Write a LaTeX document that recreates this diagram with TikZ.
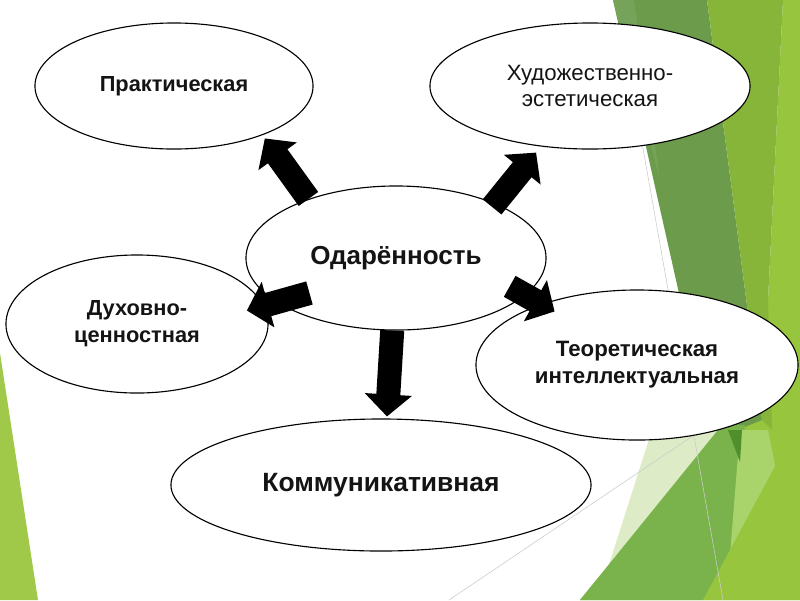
\documentclass[tikz,border=0pt]{standalone}
\usepackage{fontspec}
\setmainfont{Liberation Sans}
\usepackage{tikz}
\usetikzlibrary{shapes.geometric, arrows.meta, calc}
\definecolor{mydark}{RGB}{20,20,20}
\definecolor{gdark}{RGB}{107,155,75}
\definecolor{gband}{RGB}{118,163,90}
\definecolor{glime}{RGB}{134,181,58}
\definecolor{gbright}{RGB}{152,197,62}
\definecolor{gpale}{RGB}{221,235,198}
\definecolor{gmid}{RGB}{122,179,76}
\definecolor{glight}{RGB}{169,211,107}
\definecolor{gdeep}{RGB}{79,143,44}
\definecolor{gleft}{RGB}{160,201,74}
\tikzset{
  oval/.style={ellipse, draw=black, fill=white, line width=0.8pt,
    inner sep=0pt, align=center, text=mydark,
    font=\bfseries\fontsize{15.5}{19}\selectfont},
  bigarrow/.style={-{Triangle[length=0.55cm, width=1.15cm]},
    line width=0.6cm, color=black},
  bgline/.style={draw=black!20, line width=0.4pt}
}
\begin{document}
\begin{tikzpicture}[x=0.025cm, y=-0.025cm]
  \useasboundingbox (0,0) rectangle (800,600);
  \fill[white] (0,0) rectangle (800,600);

  \fill[gbright] (783,0) -- (800,0) -- (800,600) -- (580,600) -- (720,430) -- (768,300) -- cycle;
  \fill[gdark] (613,0) -- (707,0) -- (762,420) -- (712,440) -- cycle;
  \fill[gband] (613,0) -- (634,0) -- (660,180) -- cycle;
  \fill[glime] (707,0) -- (783,0) -- (768,300) -- (772,430) -- (762,420) -- cycle;
  \fill[gpale] (652,430) -- (735,430) -- (700,500) -- (605,577) -- cycle;
  \fill[gmid] (722,425) -- (745,425) -- (730,557) -- (703,600) -- (580,600) -- cycle;
  \fill[glight] (740,430) -- (768,430) -- (778,480) -- (730,555) -- cycle;
  \fill[gdeep] (728,430) -- (742,430) -- (740,462) -- cycle;
  \fill[gbright] (800,420) -- (800,600) -- (703,600) -- cycle;
  \fill[gleft] (0,353) -- (38,600) -- (0,600) -- cycle;
  \draw[bgline] (630,75) -- (723,600);
  \draw[bgline] (709,425) -- (449,600);

  \node[oval, minimum width=7.5cm, minimum height=3.6cm,
    font=\bfseries\fontsize{18.5}{22}\selectfont] (odar) at (396,258) {Одарённость};
  \node[oval, minimum width=6.95cm, minimum height=3.15cm] (prac) at (174,86) {Практическая};
  \node[oval, minimum width=8cm, minimum height=3.15cm,
    font=\fontsize{15.8}{18}\selectfont] (art) at (590,86) {Художественно-\\эстетическая};
  \node[oval, minimum width=6.55cm, minimum height=3.45cm] (spir) at (137,324) {Духовно-\\ценностная};
  \node[oval, minimum width=8.05cm, minimum height=3.75cm,
    font=\bfseries\fontsize{15.8}{19}\selectfont] (theor) at (637,365) {Теоретическая\\интеллектуальная};
  \node[oval, minimum width=10.5cm, minimum height=3.3cm,
    font=\bfseries\fontsize{18.8}{22}\selectfont] (komm) at (381,485) {Коммуникативная};

  \draw[bigarrow] (odar.146) -- ($(prac.center)!1.05!(prac.-30)$);
  \draw[bigarrow] ($(odar.center)!0.95!(odar.28)$) -- ($(art.center)!1.1!(art.231)$);
  \draw[bigarrow] ($(odar.center)!0.75!(odar.202)$) -- ($(spir.center)!0.857!(spir.7.3)$);
  \draw[bigarrow] ($(odar.center)!0.85!(odar.-14)$) -- ($(theor.center)!0.873!(theor.147)$);
  \draw[bigarrow] (odar.-93) -- ($(komm.center)!1.03!(komm.85)$);
\end{tikzpicture}
\end{document}
